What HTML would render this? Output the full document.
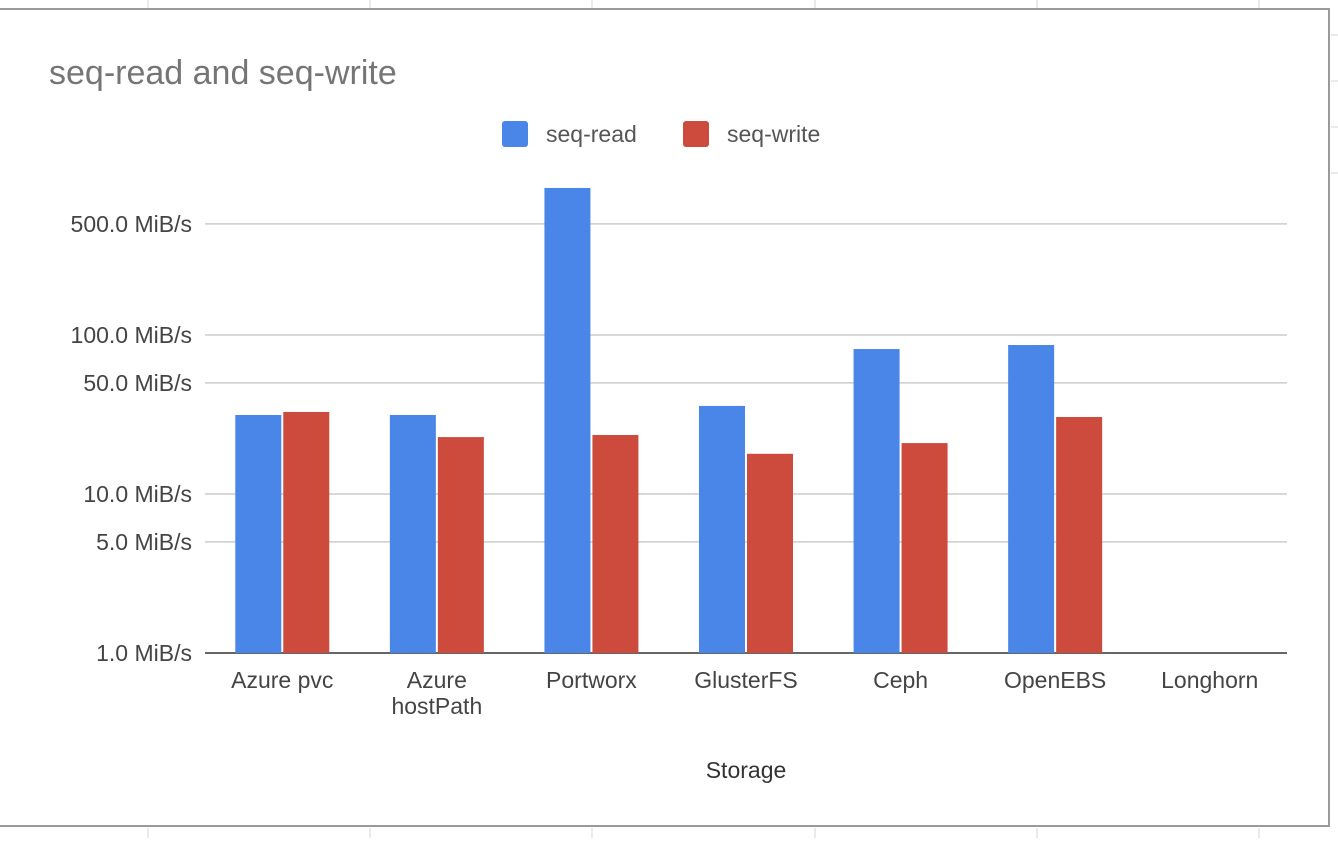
<!DOCTYPE html>
<html><head><meta charset="utf-8"><style>
body{margin:0;width:1338px;height:838px;background:#fff;overflow:hidden;font-family:"Liberation Sans",Arial,sans-serif;}
svg text{font-family:"Liberation Sans",Arial,sans-serif;}
</style></head><body>
<svg id="c" width="1338" height="838">
<g id="bg" stroke="#e2e2e2" stroke-width="1.5">
<line x1="148" y1="0" x2="148" y2="9"/><line x1="370" y1="0" x2="370" y2="9"/><line x1="592" y1="0" x2="592" y2="9"/><line x1="815" y1="0" x2="815" y2="9"/><line x1="1037" y1="0" x2="1037" y2="9"/><line x1="1259" y1="0" x2="1259" y2="9"/>
<line x1="148" y1="828" x2="148" y2="838"/><line x1="370" y1="828" x2="370" y2="838"/><line x1="592" y1="828" x2="592" y2="838"/><line x1="815" y1="828" x2="815" y2="838"/><line x1="1037" y1="828" x2="1037" y2="838"/><line x1="1259" y1="828" x2="1259" y2="838"/>
<line x1="1331" y1="35" x2="1338" y2="35"/><line x1="1331" y1="81" x2="1338" y2="81"/><line x1="1331" y1="127" x2="1338" y2="127"/><line x1="1331" y1="173" x2="1338" y2="173"/>
</g>
<rect x="-2" y="9" width="1331" height="817" fill="#fff" stroke="#9a9a9a" stroke-width="2"/>
<text x="49" y="84" font-size="34" fill="#757575">seq-read and seq-write</text>
<g>
<rect x="502" y="121" width="26" height="26" rx="3" fill="#4a86e8"/>
<text x="546" y="142" font-size="23" fill="#555">seq-read</text>
<rect x="683" y="121" width="26" height="26" rx="3" fill="#cc4b3c"/>
<text x="727" y="142" font-size="23" fill="#555">seq-write</text>
</g>
<g id="grid"></g><g id="bars"></g><g id="xl"></g>
<text x="746" y="778" font-size="23" fill="#333" text-anchor="middle">Storage</text>
</svg>
<script>
const categories=[["Azure pvc"],["Azure","hostPath"],["Portworx"],["GlusterFS"],["Ceph"],["OpenEBS"],["Longhorn"]];
const seqRead=[31.4,31.4,841,35.8,81.6,86.5,null];
const seqWrite=[32.8,22.8,23.5,17.9,20.9,30.5,null];
const tickValues=[1,5,10,50,100,500];
const tickLabels=["1.0 MiB/s","5.0 MiB/s","10.0 MiB/s","50.0 MiB/s","100.0 MiB/s","500.0 MiB/s"];
const NS="http://www.w3.org/2000/svg";
const X0=205,X1=1287,Y1=653,DEC=159;
function y(v){return Y1-Math.log10(v)*DEC;}
const step=(X1-X0)/categories.length;
function xc(i){return X0+step*(i+0.5);}
function mk(t,a,p){const e=document.createElementNS(NS,t);for(const k in a)e.setAttribute(k,a[k]);p.appendChild(e);return e;}
const g=document.getElementById('grid'),b=document.getElementById('bars'),xl=document.getElementById('xl');
tickValues.forEach((v,i)=>{
 const l=mk('line',{x1:X0,x2:X1,y1:y(v),y2:y(v),stroke:v===1?'#333':'#ccc','stroke-width':v===1?1.5:1.5},g);
 
 
 const t=mk('text',{x:192,y:y(v)+8,'font-size':23,fill:'#444','text-anchor':'end'},g);
 t.textContent=tickLabels[i];
 
 
});
const bw=46;
categories.forEach((c,i)=>{
 const cx=xc(i);
 if(seqRead[i]!=null){const r=mk('rect',{x:cx-bw-1,y:y(seqRead[i]),width:bw,height:Y1-y(seqRead[i]),fill:'#4a86e8'},b);
  
  }
 if(seqWrite[i]!=null){const r=mk('rect',{x:cx+1,y:y(seqWrite[i]),width:bw,height:Y1-y(seqWrite[i]),fill:'#cc4b3c'},b);
  
  }
 c.forEach((ln,j)=>{const t=mk('text',{x:cx,y:688+j*26,'font-size':23,fill:'#444','text-anchor':'middle'},xl);
  t.textContent=ln;
  
  });
});
</script>
</body></html>
